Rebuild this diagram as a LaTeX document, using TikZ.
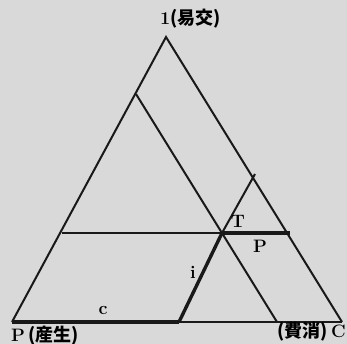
\documentclass[tikz,border=0pt]{standalone}
\usepackage{fontspec}
\newfontfamily\cjk{Noto Sans CJK JP}
\begin{document}
\begin{tikzpicture}[x=1pt,y=-1pt,
  thinline/.style={line width=2pt,black!90},
  thickline/.style={line width=3.4pt,black!90},
  lbl/.style={font=\fontsize{18}{18}\selectfont\bfseries,inner sep=0pt}]
\fill[black!15] (0,0) rectangle (347,344);
\useasboundingbox (0,0) rectangle (347,344);
% vertices
\coordinate (A) at (166,37);
\coordinate (L) at (12,322);
\coordinate (R) at (342,322);
\coordinate (T) at (222,233);
\coordinate (HL) at (62,233);
\coordinate (HR) at (290,233);
\coordinate (UL) at (136,94);
\coordinate (UR) at (255,174);
\coordinate (BL) at (179,322);
\coordinate (BR) at (277,322);
% outline
\draw[thinline,line join=miter] (L) -- (A) -- (R);
\draw[thinline] (BL) -- (R);
\draw[thickline] (L) -- (BL);
% horizontal
\draw[thinline] (HL) -- (T);
\draw[thickline] (T) -- (HR);
% parallel to right side
\draw[thinline] (UL) -- (BR);
% parallel to left side
\draw[thinline] (T) -- (UR);
\draw[thickline] (BL) -- (T);
% labels
\node[lbl] (lt) at (238,221) {T};
\node[lbl] (lp) at (260,246) {P};
\node[lbl] (li) at (193,272) {i};
\node[lbl] (lc) at (103,310) {c};
\node[lbl,anchor=base west] (top) at (160,25) {1\cjk(易交)};
\node[lbl,anchor=base west] (pl) at (11,341) {P\,\cjk(産生)};
\node[lbl,anchor=base east] (cl) at (346,337) {\cjk(費消)\,\rmfamily C};
\end{tikzpicture}
\end{document}
